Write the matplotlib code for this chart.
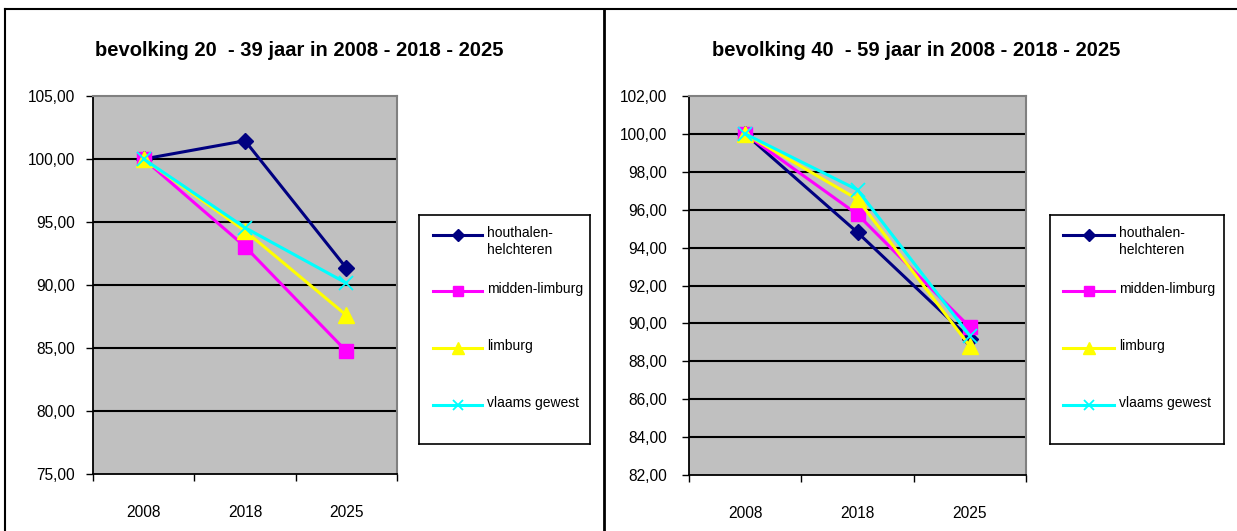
import matplotlib
matplotlib.use('Agg')
import matplotlib.pyplot as plt
from matplotlib import font_manager
from matplotlib.lines import Line2D
from matplotlib.ticker import FuncFormatter, FixedLocator

years = ['2008', '2018', '2025']
series_names = ['houthalen-\nhelchteren', 'midden-limburg', 'limburg', 'vlaams gewest']
colors = ['#000080', '#FF00FF', '#FFFF00', '#00FFFF']
markers = ['D', 's', '^', 'x']
marker_sizes = [8, 10, 11, 10]

# bevolking 20 - 39 jaar (index 2008 = 100)
young_houthalen = [100.0, 101.45, 91.35]
young_midden = [100.0, 93.05, 84.75]
young_limburg = [100.0, 94.3, 87.6]
young_vlaams = [100.0, 94.55, 90.15]

# bevolking 40 - 59 jaar
old_houthalen = [100.0, 94.8, 89.2]
old_midden = [100.0, 95.75, 89.8]
old_limburg = [100.0, 96.55, 88.8]
old_vlaams = [100.0, 97.05, 89.35]

W, H = 1237, 531
names = {f.name for f in font_manager.fontManager.ttflist}
if 'Liberation Sans Narrow' in names:
    FONT, k = 'Liberation Sans Narrow', 1.0
else:
    FONT, k = 'Liberation Sans', 0.86
plt.rcParams['font.family'] = FONT
TITLE_SIZE = 17 * k * 0.99
TICK_SIZE = 13 * k
LEGEND_SIZE = 12 * k * 0.97


def box(l, t, r, b):
    return [l / W, 1 - b / H, (r - l) / W, (b - t) / H]


def draw_chart(fig, rect, title, title_x, data, ymin, ymax, step, ypad):
    ax = fig.add_axes(rect)
    ax.set_facecolor('#C0C0C0')
    x = list(range(len(years)))
    for vals, c, m, ms in zip(data, colors, markers, marker_sizes):
        ax.plot(x, vals, color=c, lw=2.2, marker=m, ms=ms, mec=c, mfc=c,
                mew=1.3 if m == 'x' else 1, clip_on=False, zorder=3)
    ax.set_xlim(-0.5, len(years) - 0.5)
    ax.set_ylim(ymin, ymax)
    yt = list(range(ymin, ymax + 1, step))
    ax.set_yticks(yt)
    ax.yaxis.set_major_formatter(FuncFormatter(lambda v, p: f'{v:.2f}'.replace('.', ',')))
    for v in yt[1:-1]:
        ax.axhline(v, color='black', lw=1.5, zorder=1)
    ax.xaxis.set_major_locator(FixedLocator([i - 0.5 for i in range(len(years) + 1)]))
    ax.xaxis.set_minor_locator(FixedLocator(x))
    ax.set_xticklabels([])
    ax.set_xticklabels(years, minor=True)
    ax.tick_params(axis='x', which='major', direction='out', length=5, width=1, color='black')
    ax.tick_params(axis='x', which='minor', length=0, pad=22, labelsize=TICK_SIZE)
    ax.tick_params(axis='y', direction='out', length=5, width=1, pad=ypad, labelsize=TICK_SIZE)
    for s in ['top', 'right']:
        ax.spines[s].set_color('#808080')
        ax.spines[s].set_linewidth(1.5)
    for s in ['left', 'bottom']:
        ax.spines[s].set_color('black')
        ax.spines[s].set_linewidth(1.3)
    fig.text(title_x / W, 1 - 51 / H, title, ha='center', va='center',
             fontsize=TITLE_SIZE, fontweight='bold')
    return ax


def draw_legend(fig, rect, hx0, hx1, tx):
    # rect in px: l, t, r, b
    l, t, r, b = rect
    lg = fig.add_axes(box(l, t, r, b))
    lg.set_xlim(l, r)
    lg.set_ylim(b, t)
    lg.set_xticks([])
    lg.set_yticks([])
    for s in lg.spines.values():
        s.set_color('black')
        s.set_linewidth(1.2)
    rows = [235, 291, 348, 405]
    for yy, name, c, m, ms in zip(rows, series_names, colors, markers, marker_sizes):
        lg.plot([hx0, hx1], [yy, yy], color=c, lw=2.2)
        lg.plot([(hx0 + hx1) / 2], [yy], color=c, marker=m, ms=ms * 0.75,
                mew=1.3 if m == 'x' else 1)
        lg.text(tx, yy - 9, name, ha='left', va='top', fontsize=LEGEND_SIZE,
                linespacing=1.25)


fig = plt.figure(figsize=(W / 100, H / 100), dpi=100)

# panel frames
fig.add_artist(Line2D([5 / W, 1], [1 - 8.5 / H] * 2, color='black', lw=1.5))
fig.add_artist(Line2D([5 / W] * 2, [0, 1 - 8.5 / H], color='black', lw=1.5))
fig.add_artist(Line2D([603.5 / W] * 2, [0, 1 - 8.5 / H], color='black', lw=2))

draw_chart(fig, box(93, 96, 397, 474), 'bevolking 20  - 39 jaar in 2008 - 2018 - 2025', 299,
           [young_houthalen, young_midden, young_limburg, young_vlaams], 75, 105, 5, 8)
draw_legend(fig, (419, 215, 590, 444), 433, 482, 487)

draw_chart(fig, box(689, 96, 1026, 475), 'bevolking 40  - 59 jaar in 2008 - 2018 - 2025', 916,
           [old_houthalen, old_midden, old_limburg, old_vlaams], 82, 102, 2, 11)
draw_legend(fig, (1050, 215, 1224, 444), 1063, 1114, 1119)

fig.savefig('out.png', dpi=100)
